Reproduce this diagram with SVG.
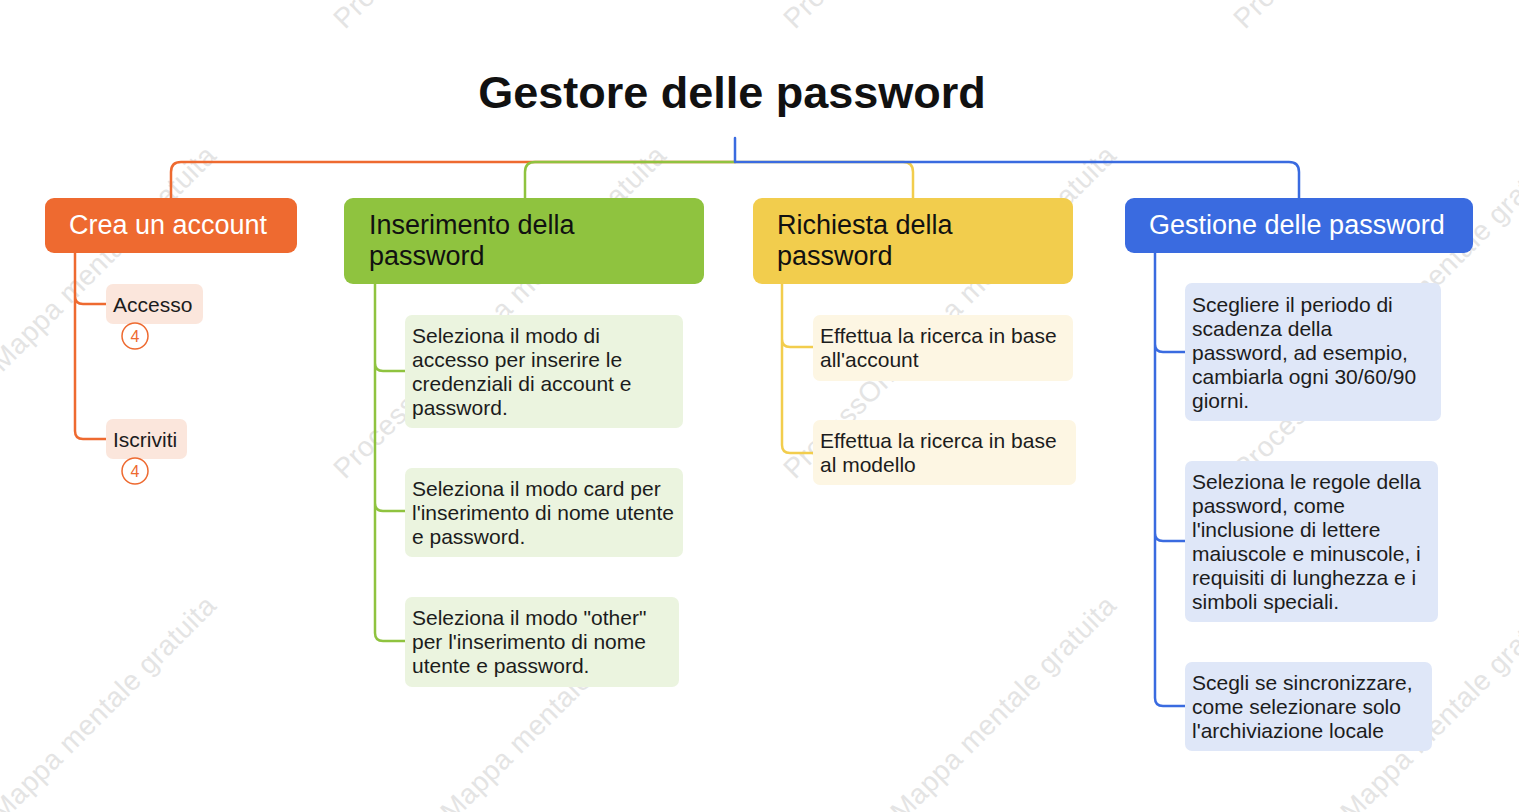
<svg xmlns="http://www.w3.org/2000/svg" width="1519" height="812" viewBox="0 0 1519 812">
<style>
text{font-family:"Liberation Sans",Arial,sans-serif}
.wm{font-size:28px;letter-spacing:0.5px;fill:#e4e4e4}
.title{font-size:45px;font-weight:bold;fill:#111}
.main{font-size:27px}
.sub{font-size:21px;fill:#1c1c1c}
.c{fill:none;stroke-width:2.5;stroke-linecap:round;stroke-linejoin:round}
.badge{fill:#fff;stroke:#ee6a30;stroke-width:1.5}
.bt{font-size:16px;fill:#ee6a30;text-anchor:middle}
</style>
<rect width="1519" height="812" fill="#fff"/>
<g id="watermark">
<text class="wm" transform="translate(-105,480) rotate(-45)">ProcessOn Mappa mentale gratuita</text>
<text class="wm" transform="translate(345,480) rotate(-45)">ProcessOn Mappa mentale gratuita</text>
<text class="wm" transform="translate(795,480) rotate(-45)">ProcessOn Mappa mentale gratuita</text>
<text class="wm" transform="translate(1245,480) rotate(-45)">ProcessOn Mappa mentale gratuita</text>
<text class="wm" transform="translate(345,30) rotate(-45)">ProcessOn Mappa mentale gratuita</text>
<text class="wm" transform="translate(795,30) rotate(-45)">ProcessOn Mappa mentale gratuita</text>
<text class="wm" transform="translate(1245,30) rotate(-45)">ProcessOn Mappa mentale gratuita</text>
<text class="wm" transform="translate(-105,930) rotate(-45)">ProcessOn Mappa mentale gratuita</text>
<text class="wm" transform="translate(345,930) rotate(-45)">ProcessOn Mappa mentale gratuita</text>
<text class="wm" transform="translate(795,930) rotate(-45)">ProcessOn Mappa mentale gratuita</text>
<text class="wm" transform="translate(1245,930) rotate(-45)">ProcessOn Mappa mentale gratuita</text>
</g>
<g id="connectors">
<path class="c" stroke="#ee6a30" d="M735,162 H181 Q171,162 171,172 V198"/>
<path class="c" stroke="#8fc33f" d="M735,162 H535 Q525,162 525,172 V198"/>
<path class="c" stroke="#f2cd4d" d="M735,162 H903 Q913,162 913,172 V198"/>
<path class="c" stroke="#3a6be0" d="M735,138 V162 M735,162 H1289 Q1299,162 1299,172 V198"/>
<path class="c" stroke="#ee6a30" d="M75,253 V296 Q75,304 83,304 H106 M75,253 V431 Q75,439 83,439 H106"/>
<path class="c" stroke="#8fc33f" d="M375,284 V363 Q375,371 383,371 H405 M375,284 V503 Q375,511 383,511 H405 M375,284 V633 Q375,641 383,641 H405"/>
<path class="c" stroke="#f2cd4d" d="M782,284 V339 Q782,347 790,347 H813 M782,284 V445 Q782,453 790,453 H813"/>
<path class="c" stroke="#3a6be0" d="M1155,253 V344 Q1155,352 1163,352 H1185 M1155,253 V533 Q1155,541 1163,541 H1185 M1155,253 V698 Q1155,706 1163,706 H1185"/>
</g>
<g id="title">
<text class="title" x="732" y="108" text-anchor="middle">Gestore delle password</text>
</g>
<g id="node-crea">
<rect x="45" y="198" width="252" height="55" rx="9" fill="#ee6a30"/>
<text class="main" x="69" y="234" fill="#fff">Crea un account</text>
</g>
<g id="node-accesso">
<rect x="106" y="284" width="97" height="40" rx="7" fill="#fbe6dc"/>
<text class="sub" x="113" y="312">Accesso</text>
<circle class="badge" cx="135" cy="336" r="13"/>
<text class="bt" x="135" y="342">4</text>
</g>
<g id="node-iscriviti">
<rect x="106" y="419" width="81" height="40" rx="7" fill="#fbe6dc"/>
<text class="sub" x="113" y="447">Iscriviti</text>
<circle class="badge" cx="135" cy="471" r="13"/>
<text class="bt" x="135" y="477">4</text>
</g>
<g id="node-inserimento">
<rect x="344" y="198" width="360" height="86" rx="9" fill="#8fc33f"/>
<text class="main" fill="#111"><tspan x="369" y="234">Inserimento della</tspan><tspan x="369" y="265">password</tspan></text>
</g>
<g id="node-ins1">
<rect x="405" y="315" width="278" height="113" rx="7" fill="#ebf4df"/>
<text class="sub"><tspan x="412" y="343">Seleziona il modo di</tspan><tspan x="412" y="367">accesso per inserire le</tspan><tspan x="412" y="391">credenziali di account e</tspan><tspan x="412" y="415">password.</tspan></text>
</g>
<g id="node-ins2">
<rect x="405" y="468" width="278" height="89" rx="7" fill="#ebf4df"/>
<text class="sub"><tspan x="412" y="496">Seleziona il modo card per</tspan><tspan x="412" y="520">l'inserimento di nome utente</tspan><tspan x="412" y="544">e password.</tspan></text>
</g>
<g id="node-ins3">
<rect x="405" y="597" width="274" height="90" rx="7" fill="#ebf4df"/>
<text class="sub"><tspan x="412" y="625">Seleziona il modo "other"</tspan><tspan x="412" y="649">per l'inserimento di nome</tspan><tspan x="412" y="673">utente e password.</tspan></text>
</g>
<g id="node-richiesta">
<rect x="753" y="198" width="320" height="86" rx="9" fill="#f2cd4d"/>
<text class="main" fill="#111"><tspan x="777" y="234">Richiesta della</tspan><tspan x="777" y="265">password</tspan></text>
</g>
<g id="node-ric1">
<rect x="813" y="315" width="260" height="66" rx="7" fill="#fdf6e3"/>
<text class="sub"><tspan x="820" y="343">Effettua la ricerca in base</tspan><tspan x="820" y="367">all'account</tspan></text>
</g>
<g id="node-ric2">
<rect x="813" y="420" width="263" height="65" rx="7" fill="#fdf6e3"/>
<text class="sub"><tspan x="820" y="448">Effettua la ricerca in base</tspan><tspan x="820" y="472">al modello</tspan></text>
</g>
<g id="node-gestione">
<rect x="1125" y="198" width="348" height="55" rx="9" fill="#3a6be0"/>
<text class="main" x="1149" y="234" fill="#fff">Gestione delle password</text>
</g>
<g id="node-ges1">
<rect x="1185" y="283" width="256" height="138" rx="7" fill="#dfe7f8"/>
<text class="sub"><tspan x="1192" y="312">Scegliere il periodo di</tspan><tspan x="1192" y="336">scadenza della</tspan><tspan x="1192" y="360">password, ad esempio,</tspan><tspan x="1192" y="384">cambiarla ogni 30/60/90</tspan><tspan x="1192" y="408">giorni.</tspan></text>
</g>
<g id="node-ges2">
<rect x="1185" y="461" width="253" height="161" rx="7" fill="#dfe7f8"/>
<text class="sub"><tspan x="1192" y="489">Seleziona le regole della</tspan><tspan x="1192" y="513">password, come</tspan><tspan x="1192" y="537">l'inclusione di lettere</tspan><tspan x="1192" y="561">maiuscole e minuscole, i</tspan><tspan x="1192" y="585">requisiti di lunghezza e i</tspan><tspan x="1192" y="609">simboli speciali.</tspan></text>
</g>
<g id="node-ges3">
<rect x="1185" y="662" width="247" height="89" rx="7" fill="#dfe7f8"/>
<text class="sub"><tspan x="1192" y="690">Scegli se sincronizzare,</tspan><tspan x="1192" y="714">come selezionare solo</tspan><tspan x="1192" y="738">l'archiviazione locale</tspan></text>
</g>
</svg>
